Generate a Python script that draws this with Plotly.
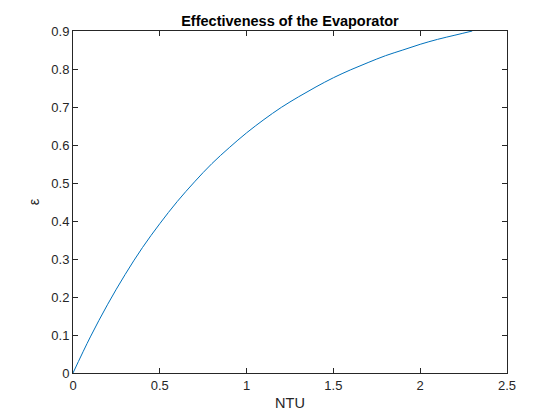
import plotly.graph_objects as go

# values
ntu = [0, 0.1, 0.2, 0.3, 0.4, 0.5, 0.6, 0.7, 0.8, 0.9, 1.0, 1.1, 1.2,
       1.3, 1.4, 1.5, 1.6, 1.7, 1.8, 1.9, 2.0, 2.1, 2.2, 2.3]
eff = [0, 0.095, 0.181, 0.259, 0.330, 0.393, 0.451, 0.503, 0.551, 0.593,
       0.632, 0.667, 0.699, 0.727, 0.753, 0.777, 0.798, 0.817, 0.835,
       0.850, 0.865, 0.878, 0.889, 0.900]

x_ticks = [0, 0.5, 1, 1.5, 2, 2.5]
x_labels = ['0', '0.5', '1', '1.5', '2', '2.5']
y_ticks = [0, 0.1, 0.2, 0.3, 0.4, 0.5, 0.6, 0.7, 0.8, 0.9]
y_labels = ['0', '0.1', '0.2', '0.3', '0.4', '0.5', '0.6', '0.7', '0.8', '0.9']

FONT = 'Liberation Sans, Arial'

fig = go.Figure()
fig.add_trace(go.Scatter(x=ntu, y=eff, mode='lines',
                         line=dict(color='#0072BD', width=1, shape='spline'),
                         showlegend=False))

axis_style = dict(showline=True, linecolor='#262626', linewidth=1, mirror='ticks',
                  ticks='inside', ticklen=5, tickcolor='#262626', showgrid=False,
                  zeroline=False, automargin=False,
                  tickfont=dict(family=FONT, size=13, color='#262626'))

fig.update_layout(
    width=560, height=420,
    margin=dict(l=73, r=53, t=31, b=47, autoexpand=False),
    paper_bgcolor='white', plot_bgcolor='white',
    title=dict(text='<b>Effectiveness of the Evaporator</b>', x=0.5, xanchor='center',
               xref='paper', y=1 - 21 / 420, yanchor='middle',
               font=dict(family=FONT, size=14.5, color='black')),
    xaxis=dict(range=[0, 2.5], tickvals=x_ticks, ticktext=x_labels,
               title=dict(text='NTU', standoff=6,
                          font=dict(family=FONT, size=14.5, color='#262626')),
               **axis_style),
    yaxis=dict(range=[0, 0.9], tickvals=y_ticks, ticktext=y_labels,
               title=dict(text='ε', standoff=8,
                          font=dict(family=FONT, size=14.5, color='#262626')),
               **axis_style),
)

# drop the default page margin so the figure sits at the window corner
fig.write_html("out.html", config={'displayModeBar': False},
               post_script="document.body.style.margin='0';")
